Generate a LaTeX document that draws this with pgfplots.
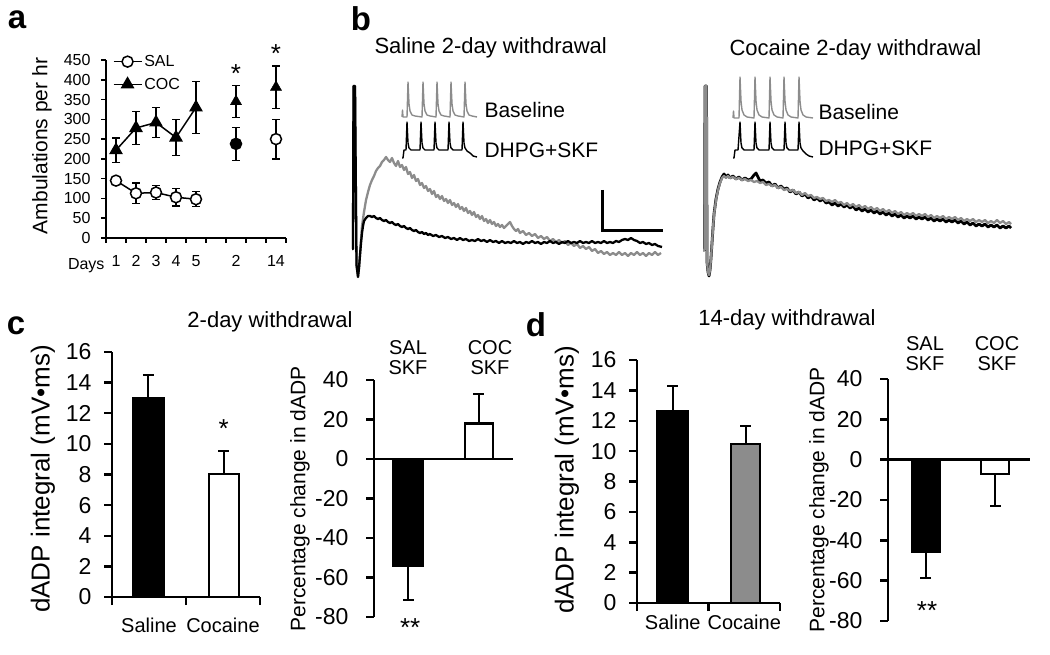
\documentclass[border=0pt]{standalone}
\usepackage{pgfplots}
\pgfplotsset{compat=1.18}
\usepackage{fontspec}
\setmainfont{Liberation Sans}
\newcommand\fs[1]{\fontsize{#1}{#1}\selectfont}
\newcommand\pp[2]{(#1,{654-#2})}
\definecolor{tg}{HTML}{8C8C8C}
\pgfplotsset{
  barax/.style={scale only axis, axis x line*=bottom, axis y line*=left,
    tick align=outside, axis line style={line width=2.5pt},
    major tick style={line width=2.5pt, black}, major tick length=8pt,
    ticklabel style={font=\fs{23}}, yticklabel style={xshift=-9pt},
    /pgf/number format/assume math mode=true,
    clip=false, xmin=0, xmax=2},
  bb/.style={ybar, bar shift=0pt, bar width=#1, draw=black, line width=2.2pt,
    error bars/y explicit, error bars/error mark=|,
    error bars/error bar style={line width=2pt, draw=black, solid},
    error bars/error mark options={line width=2pt, mark size=5.5pt, draw=black, solid}},
}
\begin{document}
\begin{tikzpicture}[x=1pt,y=1pt]
\path[use as bounding box] (0,0) rectangle (1050,654);
% ---------------- panel a ----------------
\begin{axis}[scale only axis, width=180pt, height=178pt, at={(106pt,416pt)}, anchor=south west,
  xmin=0.5, xmax=9.5, ymin=0, ymax=450,
  axis x line*=bottom, axis y line*=left, tick align=outside,
  axis line style={line width=1.6pt}, major tick style={line width=1.6pt, black}, major tick length=5pt,
  xtick={0.5,1.5,...,9.5}, x tick label as interval, xticklabels={1,2,3,4,5,,2,,14},
  ytick={0,50,...,450}, ticklabel style={font=\fs{16}},
  xticklabel style={anchor=base, yshift=-24pt},
  yticklabel style={xshift=-7pt},
  /pgf/number format/assume math mode=true, clip=false,
  legend style={draw=none, fill=none, at={(0.02,1.05)}, anchor=north west, font=\fs{16}, row sep=6pt},
  legend cell align=left,
  legend image code/.code={\draw[mark repeat=2,mark phase=2,#1] plot coordinates {(0pt,0pt)(14pt,0pt)(28pt,0pt)};}]
% error bars
\addplot[black, mark=none, forget plot, only marks, error bars/.cd, y dir=both, y explicit, error mark=|,
  error bar style={line width=1.3pt, black}, error mark options={line width=1.3pt, mark size=4pt, black}]
  coordinates {(1,145)+-(0,9) (2,113)+-(0,26) (3,115)+-(0,18) (4,103)+-(0,22) (5,98)+-(0,19)
  (7,238)+-(0,42) (9,250)+-(0,50)
  (1,222)+-(0,31) (2,278)+-(0,42) (3,292)+-(0,38) (4,254)+-(0,46) (5,330)+-(0,65)
  (7,345)+-(0,41) (9,381)+-(0,54)};
\addplot[black, line width=1.5pt, mark=*, mark options={fill=white, draw=black, line width=1.5pt}, mark size=5.5pt]
  coordinates {(1,145) (2,113) (3,115) (4,103) (5,98)};
\addlegendentry{SAL}
\addplot[black, line width=1.5pt, mark=triangle*, mark options={fill=black}, mark size=6.5pt]
  coordinates {(1,222) (2,278) (3,292) (4,254) (5,330)};
\addlegendentry{COC}
\addplot[only marks, mark=*, mark options={fill=black, draw=black, line width=1.5pt}, mark size=5.5pt, forget plot]
  coordinates {(7,238)};
\addplot[only marks, mark=*, mark options={fill=white, draw=black, line width=1.5pt}, mark size=5.5pt, forget plot]
  coordinates {(9,250)};
\addplot[only marks, mark=triangle*, mark options={fill=black}, mark size=6.5pt, forget plot]
  coordinates {(7,345) (9,381)};
\node[font=\fs{26}] at (axis cs:7,415) {*};
\node[font=\fs{26}] at (axis cs:9,467) {*};
\end{axis}
\node[font=\fs{16}, anchor=base east] at \pp{108}{270} {Days};
\node[rotate=90, font=\fs{21}] at \pp{42}{146} {Ambulations per hr};
% ---------------- panel b traces ----------------
\begin{axis}[scale only axis, width=1050pt, height=654pt, at={(0pt,0pt)}, anchor=south west,
  xmin=0, xmax=1050, ymin=0, ymax=654, y dir=reverse, hide axis, clip=false]
% left: gray (baseline)
\addplot[tg, line width=2.3pt, line join=round] coordinates {
(352,249)(353,249)(353.5,86)(355,86)(356.5,265)(358,277)(359,268)(360,255)(361,240)(362,226)(364,212)(366,200)(368,192)(370,185)(372,180)(374,176)(376,171)(378,168)(380,166)(382,162)(384,160)(386,157)(388,160)(390,162)(392,158)(394,163)(396,166)(398,161)(400,167)(402,165)(404,170)(406,167)(408,174)(410,172)(412,178)(414,175)(416,181)(418,179)(420,185)(422,183)(424,188)(426,186)(428,191)(430,189)(432,194)(434,191)(436,197)(438,195)(440,199)(442,196)(444,201)(446,199)(448,203)(450,200)(452,205)(454,203)(456,207)(458,204)(460,209)(462,207)(464,211)(466,208)(468,213)(470,211)(472,215)(474,212)(476,217)(478,215)(480,219)(482,216)(484,221)(486,219)(488,223)(490,220)(492,224)(494,222)(496,226)(498,224)(500,227)(502,225)(504,228)(506,226)(508,224)(510,222)(512,226)(514,229)(516,231)(518,229)(520,233)(523,231)(526,235)(529,233)(532,236)(535,234)(538,238)(541,236)(544,239)(547,237)(550,241)(553,239)(556,242)(559,240)(562,243)(565,241)(568,245)(571,243)(574,246)(577,244)(580,248)(583,246)(586,249)(589,247)(592,251)(595,249)(598,253)(601,251)(604,254)(607,252)(610,255)(613,253)(616,255)(619,252)(622,255)(625,253)(628,256)(631,253)(634,255)(637,252)(640,255)(643,253)(646,256)(649,253)(652,255)(655,252)(658,255)(661,253)};
% left: black (DHPG+SKF)
\addplot[black, line width=2.3pt, line join=round] coordinates {
(352,249)(353,249)(353.5,86)(355,86)(356.5,265)(358,277)(359,268)(360,255)(361,243)(362,233)(363,226)(364,221)(366,218)(368,216)(370,216)(372,217)(374,216)(376,218)(378,219)(380,218)(382,220)(384,221)(386,220)(388,222)(390,223)(392,222)(394,224)(396,225)(398,224)(400,226)(402,227)(404,226)(406,228)(408,229)(410,228)(412,230)(414,231)(416,230)(418,232)(420,233)(422,232)(424,234)(426,233)(428,235)(430,234)(433,236)(436,235)(439,237)(442,236)(445,238)(448,237)(451,239)(454,238)(457,240)(460,238)(463,240)(466,239)(469,241)(472,240)(475,241)(478,239)(481,241)(484,240)(487,242)(490,240)(493,242)(496,241)(499,243)(502,241)(505,243)(508,242)(511,243)(514,241)(517,243)(520,242)(523,244)(526,242)(529,243)(532,241)(535,243)(538,242)(541,244)(544,242)(547,243)(550,241)(553,243)(556,242)(559,244)(562,242)(565,243)(568,241)(571,243)(574,242)(577,243)(580,241)(583,243)(586,242)(589,243)(592,241)(595,243)(598,242)(601,243)(604,241)(607,243)(610,242)(613,243)(616,241)(619,242)(622,240)(625,239)(628,240)(631,238)(634,240)(637,241)(640,243)(643,242)(646,244)(649,243)(652,245)(655,244)(658,246)(662,247)};
% right: black
\addplot[black, line width=2.8pt, line join=round] coordinates {
(703,250)(704.5,250)(705,86)(706.5,86)(707,262)(708,272)(709,276)(710,270)(711,258)(712,243)(713,228)(714,214)(716,199)(718,189)(720,182)(722,177)(724,174)(726,177)(728,175)(730,178)(733,176)(736,179)(739,177)(742,180)(745,178)(748,180)(751,179)(754,175)(756,173)(758,177)(760,181)(763,180)(766,183)(769,182)(772,186)(775,184)(778,188)(781,186)(784,189)(787,188)(790,192)(793,190)(796,194)(799,192)(802,196)(805,194)(808,198)(811,196)(814,200)(817,198)(820,201)(823,199)(826,203)(829,202)(832,205)(835,203)(838,206)(841,204)(844,207)(847,205)(850,208)(853,206)(856,210)(859,208)(862,211)(865,209)(868,212)(871,210)(874,213)(877,211)(880,214)(883,212)(886,215)(889,213)(892,216)(895,214)(898,217)(901,215)(904,218)(907,216)(910,218)(913,216)(916,219)(919,217)(922,219)(925,217)(928,220)(931,218)(934,221)(937,219)(940,221)(943,219)(946,222)(949,220)(952,222)(955,220)(958,223)(961,221)(964,224)(967,222)(970,225)(973,223)(976,226)(979,224)(982,226)(985,224)(988,227)(991,225)(994,227)(997,225)(1000,228)(1003,226)(1006,228)(1009,226)(1011,228)};
% right: gray
\addplot[tg, line width=2.3pt, line join=round] coordinates {
(703,250)(704.5,250)(705,86)(706.5,86)(707,262)(708,272)(709,275)(710,270)(711,258)(712,243)(713,228)(714,215)(716,200)(718,190)(720,183)(722,178)(724,176)(726,178)(728,176)(730,178)(733,177)(736,179)(739,178)(742,180)(745,179)(748,181)(751,180)(754,182)(757,181)(760,183)(763,182)(766,185)(769,184)(772,186)(775,185)(778,188)(781,187)(784,190)(787,189)(790,191)(793,190)(796,193)(799,192)(802,195)(805,193)(808,196)(811,195)(814,198)(817,197)(820,199)(823,198)(826,201)(829,200)(832,202)(835,200)(838,203)(841,202)(844,205)(847,203)(850,206)(853,204)(856,207)(859,205)(862,208)(865,206)(868,209)(871,207)(874,210)(877,208)(880,211)(883,209)(886,212)(889,210)(892,213)(895,211)(898,214)(901,212)(904,215)(907,213)(910,215)(913,213)(916,216)(919,214)(922,216)(925,214)(928,217)(931,215)(934,218)(937,216)(940,218)(943,216)(946,219)(949,217)(952,219)(955,217)(958,220)(961,218)(964,221)(967,219)(970,221)(973,219)(976,222)(979,220)(982,222)(985,220)(988,223)(991,221)(994,223)(997,220)(1000,223)(1003,221)(1006,224)(1009,222)(1011,224)};
% insets left
\addplot[tg, line width=1.4pt, line join=round] coordinates {
(402,117)(402.5,110)(403,117)(407,117)(408,82)(409,104)(410,111)(412,115)(415,116)(422,117)(423,82)(424,104)(425,111)(427,115)(430,116)(436,117)(437,82)(438,104)(439,111)(441,115)(444,116)(450,117)(451,82)(452,104)(453,111)(455,115)(458,116)(464,117)(465,82)(466,104)(467,111)(469,115)(472,116)(477,117)};
\addplot[black, line width=1.4pt, line join=round] coordinates {
(402,158)(403,158)(404,150)(406,150)(407,122)(408,143)(409,148)(411,150)(420,150)(421,122)(422,143)(423,148)(425,150)(434,150)(435,122)(436,143)(437,148)(439,150)(448,150)(449,122)(450,143)(451,148)(453,150)(462,150)(463,122)(464,143)(465,148)(467,151)(470,153)(473,156)(477,157)};
% insets right
\addplot[tg, line width=1.4pt, line join=round] coordinates {
(733,118)(733.5,111)(734,118)(739,118)(740,77)(741,101)(742,110)(744,115)(747,117)(754,118)(755,77)(756,101)(757,110)(759,115)(762,117)(769,118)(770,77)(771,101)(772,110)(774,115)(777,117)(783,118)(784,77)(785,101)(786,110)(788,115)(791,117)(798,118)(799,77)(800,101)(801,110)(803,115)(806,117)(813,118)};
\addplot[black, line width=1.4pt, line join=round] coordinates {
(733,158)(734,158)(735,150)(738,150)(740,122)(741,143)(742,148)(744,150)(754,150)(755,122)(756,143)(757,148)(759,150)(769,150)(770,122)(771,143)(772,148)(774,150)(784,150)(785,122)(786,143)(787,148)(789,150)(798,150)(799,122)(800,143)(801,148)(803,151)(806,154)(809,156)(813,157)};
% scale bar
\addplot[black, line width=3pt] coordinates {(602,190)(602,230)(663,230)};
\end{axis}
\node[font=\fs{22}, anchor=west] at \pp{371}{48} {Saline 2-day withdrawal};
\node[font=\fs{22}, anchor=west] at \pp{726}{50} {Cocaine 2-day withdrawal};
\node[font=\fs{21}, anchor=west] at \pp{481}{110} {Baseline};
\node[font=\fs{21}, anchor=west] at \pp{481}{150} {DHPG+SKF};
\node[font=\fs{21}, anchor=west] at \pp{815}{112} {Baseline};
\node[font=\fs{21}, anchor=west] at \pp{815}{148} {DHPG+SKF};
% ---------------- panel c ----------------
\begin{axis}[barax, width=148pt, height=245pt, at={(112pt,57pt)}, anchor=south west,
  ymin=0, ymax=16, ytick={0,2,...,16},
  xtick={0,1,2}, x tick label as interval, xticklabels={Saline,Cocaine},
  xticklabel style={font=\fs{20}, yshift=-9pt}]
\addplot[fill=black, bb=31pt, error bars/y dir=plus] coordinates {(0.49,13.0)+-(0,1.5)};
\addplot[fill=white, bb=30pt, error bars/y dir=plus] coordinates {(1.51,8.05)+-(0,1.5)};
\node[font=\fs{26}] at (axis cs:1.51,11.0) {*};
\end{axis}
\node[rotate=90, font=\fs{26}] at \pp{43}{479} {dADP integral (mV•ms)};
\node[font=\fs{22}] at \pp{270}{322} {2-day withdrawal};
\begin{axis}[barax, axis x line*=middle, width=139pt, height=237pt, at={(374pt,37pt)}, anchor=south west,
  ymin=-80, ymax=40, ytick={-80,-60,...,40}, xtick=\empty, yticklabel style={xshift=-5pt}]
\addplot[fill=black, bb=30pt, error bars/y dir=minus] coordinates {(0.49,-54)+-(0,17.5)};
\addplot[fill=white, bb=28pt, error bars/y dir=plus] coordinates {(1.51,18)+-(0,15)};
\node[font=\fs{26}] at (axis cs:0.52,-85.5) {**};
\end{axis}
\node[rotate=90, font=\fs{21}] at \pp{300}{499} {Percentage change in dADP};
\node[font=\fs{20}, align=center] at \pp{408}{358} {SAL\\[0pt]SKF};
\node[font=\fs{20}, align=center] at \pp{490}{358} {COC\\[0pt]SKF};
% ---------------- panel d ----------------
\begin{axis}[barax, width=143pt, height=243pt, at={(637pt,51pt)}, anchor=south west,
  ymin=0, ymax=16, ytick={0,2,...,16},
  xtick={0,1,2}, x tick label as interval, xticklabels={Saline,Cocaine},
  xticklabel style={font=\fs{20}}]
\addplot[fill=black, bb=31pt, error bars/y dir=plus] coordinates {(0.5,12.65)+-(0,1.65)};
\addplot[fill=tg, bb=29pt, error bars/y dir=plus] coordinates {(1.52,10.48)+-(0,1.2)};
\end{axis}
\node[rotate=90, font=\fs{26}] at \pp{567}{480} {dADP integral (mV•ms)};
\node[font=\fs{22}] at \pp{787}{320} {14-day withdrawal};
\begin{axis}[barax, axis x line*=middle, width=142pt, height=242pt, at={(888pt,33pt)}, anchor=south west,
  ymin=-80, ymax=40, ytick={-80,-60,...,40}, xtick=\empty, yticklabel style={xshift=-5pt}]
\addplot[fill=black, bb=28pt, error bars/y dir=minus] coordinates {(0.53,-45.5)+-(0,13.3)};
\addplot[fill=white, bb=28pt, error bars/y dir=minus] coordinates {(1.51,-7.1)+-(0,15.7)};
\node[font=\fs{26}] at (axis cs:0.55,-75) {**};
\end{axis}
\node[rotate=90, font=\fs{21}] at \pp{819}{500} {Percentage change in dADP};
\node[font=\fs{20}, align=center] at \pp{925}{354} {SAL\\[0pt]SKF};
\node[font=\fs{20}, align=center] at \pp{997}{354} {COC\\[0pt]SKF};
% panel letters
\node[font=\fs{33}\bfseries] at \pp{17}{20} {a};
\node[font=\fs{33}\bfseries] at \pp{361}{19} {b};
\node[font=\fs{33}\bfseries] at \pp{16}{326} {c};
\node[font=\fs{33}\bfseries] at \pp{536}{325} {d};
\end{tikzpicture}
\end{document}
